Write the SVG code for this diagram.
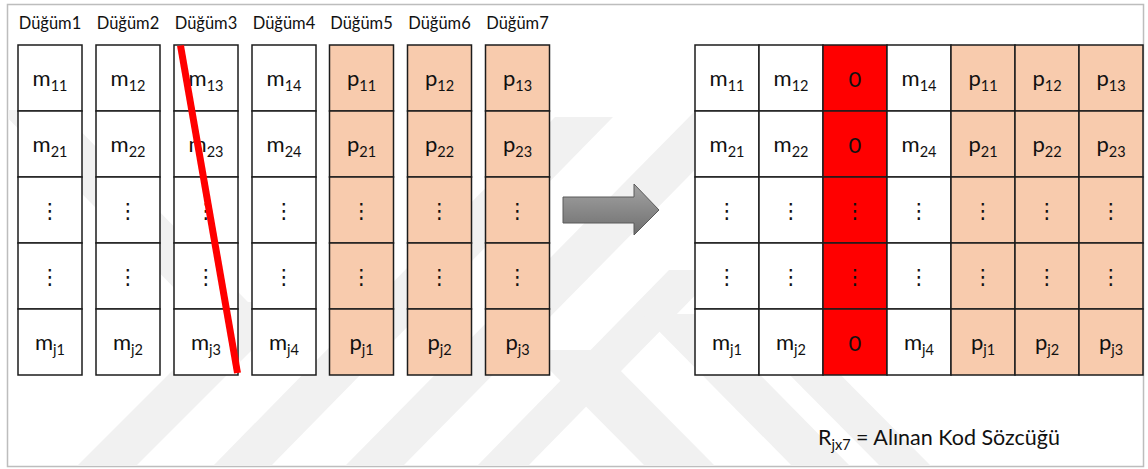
<svg xmlns="http://www.w3.org/2000/svg" width="1148" height="469" viewBox="0 0 1148 469">
  <style>
    .frame { fill: #ffffff; stroke: #bdbdbd; stroke-width: 1.5; }
    .wm { fill: #f1f1f1; }
    .cell { fill: #ffffff; stroke: #1c1c1c; stroke-width: 1.5; }
    .par { fill: #f8cbad; stroke: #1c1c1c; stroke-width: 1.5; }
    .zero { fill: #ff0000; stroke: #1c1c1c; stroke-width: 1.5; }
    .hdr { font-family: Lato, "Liberation Sans", sans-serif; font-size: 16.5px; fill: #111; text-anchor: middle; }
    .lbl { font-family: Lato, "Liberation Sans", sans-serif; font-size: 22px; fill: #111; text-anchor: middle; }
    .sub { font-size: 14.5px; }
    .dots { font-family: "DejaVu Sans", sans-serif; font-size: 21px; fill: #111; text-anchor: middle; }
    .cap { font-family: Lato, "Liberation Sans", sans-serif; font-size: 21.5px; fill: #111; }
    .strike { stroke: #ff0000; stroke-width: 7; stroke-linecap: butt; }
    .arrow { fill: url(#arrowFill); stroke: #5a5a5a; stroke-width: 1; }
  </style>
  <defs>
    <linearGradient id="arrowFill" x1="0" y1="0" x2="0" y2="1">
      <stop offset="0" stop-color="#a3a3a3"/>
      <stop offset="1" stop-color="#6f6f6f"/>
    </linearGradient>
    <clipPath id="inside">
      <rect x="8" y="5" width="1135" height="461"/>
    </clipPath>
  </defs>

  <!-- outer frame -->
  <rect class="frame" x="7.5" y="4.5" width="1136" height="462"/>

  <!-- faint background bands -->
  <g clip-path="url(#inside)">
    <polygon class="wm" points="77,466 136,466 300,302 241,302"/>
    <polygon class="wm" points="213,466 271,466 613,117 555,117"/>
    <polygon class="wm" points="345,466 403,466 752,112 694,112"/>
    <polygon class="wm" points="477,466 528,466 720,270 669,270"/>
    <polygon class="wm" points="0,110 60,110 290,345 230,345"/>
    <polygon class="wm" points="645,466 715,466 600,350 530,350"/>
    <polygon class="wm" points="792,466 850,466 700,314 642,314"/>
    <polygon class="wm" points="880,466 931,466 810,344 759,344"/>
  </g>

  <!-- column headers -->
  <g id="headers">
    <text class="hdr" x="50" y="29">Düğüm1</text>
    <text class="hdr" x="128" y="29">Düğüm2</text>
    <text class="hdr" x="206" y="29">Düğüm3</text>
    <text class="hdr" x="284" y="29">Düğüm4</text>
    <text class="hdr" x="361.5" y="29">Düğüm5</text>
    <text class="hdr" x="439.5" y="29">Düğüm6</text>
    <text class="hdr" x="517.5" y="29">Düğüm7</text>
  </g>

  <!-- node columns (left) -->
  <g id="node1">
    <rect class="cell" x="18" y="45" width="64" height="66"/>
    <rect class="cell" x="18" y="111" width="64" height="66"/>
    <rect class="cell" x="18" y="177" width="64" height="66"/>
    <rect class="cell" x="18" y="243" width="64" height="66"/>
    <rect class="cell" x="18" y="309" width="64" height="66"/>
    <text class="lbl" x="50" y="86">m<tspan class="sub" dy="5">11</tspan></text>
    <text class="lbl" x="50" y="152">m<tspan class="sub" dy="5">21</tspan></text>
    <text class="dots" x="50" y="218">⋮</text>
    <text class="dots" x="50" y="284">⋮</text>
    <text class="lbl" x="50" y="350">m<tspan class="sub" dy="5">j1</tspan></text>
  </g>
  <g id="node2">
    <rect class="cell" x="96" y="45" width="64" height="66"/>
    <rect class="cell" x="96" y="111" width="64" height="66"/>
    <rect class="cell" x="96" y="177" width="64" height="66"/>
    <rect class="cell" x="96" y="243" width="64" height="66"/>
    <rect class="cell" x="96" y="309" width="64" height="66"/>
    <text class="lbl" x="128" y="86">m<tspan class="sub" dy="5">12</tspan></text>
    <text class="lbl" x="128" y="152">m<tspan class="sub" dy="5">22</tspan></text>
    <text class="dots" x="128" y="218">⋮</text>
    <text class="dots" x="128" y="284">⋮</text>
    <text class="lbl" x="128" y="350">m<tspan class="sub" dy="5">j2</tspan></text>
  </g>
  <g id="node3">
    <rect class="cell" x="174" y="45" width="64" height="66"/>
    <rect class="cell" x="174" y="111" width="64" height="66"/>
    <rect class="cell" x="174" y="177" width="64" height="66"/>
    <rect class="cell" x="174" y="243" width="64" height="66"/>
    <rect class="cell" x="174" y="309" width="64" height="66"/>
    <text class="lbl" x="206" y="86">m<tspan class="sub" dy="5">13</tspan></text>
    <text class="lbl" x="206" y="152">m<tspan class="sub" dy="5">23</tspan></text>
    <text class="dots" x="206" y="218">⋮</text>
    <text class="dots" x="206" y="284">⋮</text>
    <text class="lbl" x="206" y="350">m<tspan class="sub" dy="5">j3</tspan></text>
    <!-- failed node marker -->
    <line class="strike" x1="180.5" y1="45.5" x2="237.5" y2="373"/>
  </g>
  <g id="node4">
    <rect class="cell" x="252" y="45" width="64" height="66"/>
    <rect class="cell" x="252" y="111" width="64" height="66"/>
    <rect class="cell" x="252" y="177" width="64" height="66"/>
    <rect class="cell" x="252" y="243" width="64" height="66"/>
    <rect class="cell" x="252" y="309" width="64" height="66"/>
    <text class="lbl" x="284" y="86">m<tspan class="sub" dy="5">14</tspan></text>
    <text class="lbl" x="284" y="152">m<tspan class="sub" dy="5">24</tspan></text>
    <text class="dots" x="284" y="218">⋮</text>
    <text class="dots" x="284" y="284">⋮</text>
    <text class="lbl" x="284" y="350">m<tspan class="sub" dy="5">j4</tspan></text>
  </g>
  <g id="node5">
    <rect class="par" x="329.5" y="45" width="64" height="66"/>
    <rect class="par" x="329.5" y="111" width="64" height="66"/>
    <rect class="par" x="329.5" y="177" width="64" height="66"/>
    <rect class="par" x="329.5" y="243" width="64" height="66"/>
    <rect class="par" x="329.5" y="309" width="64" height="66"/>
    <text class="lbl" x="361.5" y="86">p<tspan class="sub" dy="5">11</tspan></text>
    <text class="lbl" x="361.5" y="152">p<tspan class="sub" dy="5">21</tspan></text>
    <text class="dots" x="361.5" y="218">⋮</text>
    <text class="dots" x="361.5" y="284">⋮</text>
    <text class="lbl" x="361.5" y="350">p<tspan class="sub" dy="5">j1</tspan></text>
  </g>
  <g id="node6">
    <rect class="par" x="407.5" y="45" width="64" height="66"/>
    <rect class="par" x="407.5" y="111" width="64" height="66"/>
    <rect class="par" x="407.5" y="177" width="64" height="66"/>
    <rect class="par" x="407.5" y="243" width="64" height="66"/>
    <rect class="par" x="407.5" y="309" width="64" height="66"/>
    <text class="lbl" x="439.5" y="86">p<tspan class="sub" dy="5">12</tspan></text>
    <text class="lbl" x="439.5" y="152">p<tspan class="sub" dy="5">22</tspan></text>
    <text class="dots" x="439.5" y="218">⋮</text>
    <text class="dots" x="439.5" y="284">⋮</text>
    <text class="lbl" x="439.5" y="350">p<tspan class="sub" dy="5">j2</tspan></text>
  </g>
  <g id="node7">
    <rect class="par" x="485.5" y="45" width="64" height="66"/>
    <rect class="par" x="485.5" y="111" width="64" height="66"/>
    <rect class="par" x="485.5" y="177" width="64" height="66"/>
    <rect class="par" x="485.5" y="243" width="64" height="66"/>
    <rect class="par" x="485.5" y="309" width="64" height="66"/>
    <text class="lbl" x="517.5" y="86">p<tspan class="sub" dy="5">13</tspan></text>
    <text class="lbl" x="517.5" y="152">p<tspan class="sub" dy="5">23</tspan></text>
    <text class="dots" x="517.5" y="218">⋮</text>
    <text class="dots" x="517.5" y="284">⋮</text>
    <text class="lbl" x="517.5" y="350">p<tspan class="sub" dy="5">j3</tspan></text>
  </g>

  <!-- transition arrow -->
  <g id="connectors">
    <polygon class="arrow" points="563,197 634,197 634,184 659,210 634,235 634,223 563,223"/>
  </g>

  <!-- received codeword matrix (right) -->
  <g id="codeword">
    <g id="r-col1">
      <rect class="cell" x="695" y="45" width="64" height="66"/>
      <rect class="cell" x="695" y="111" width="64" height="66"/>
      <rect class="cell" x="695" y="177" width="64" height="66"/>
      <rect class="cell" x="695" y="243" width="64" height="66"/>
      <rect class="cell" x="695" y="309" width="64" height="66"/>
      <text class="lbl" x="727" y="86">m<tspan class="sub" dy="5">11</tspan></text>
      <text class="lbl" x="727" y="152">m<tspan class="sub" dy="5">21</tspan></text>
      <text class="dots" x="727" y="218">⋮</text>
      <text class="dots" x="727" y="284">⋮</text>
      <text class="lbl" x="727" y="350">m<tspan class="sub" dy="5">j1</tspan></text>
    </g>
    <g id="r-col2">
      <rect class="cell" x="759" y="45" width="64" height="66"/>
      <rect class="cell" x="759" y="111" width="64" height="66"/>
      <rect class="cell" x="759" y="177" width="64" height="66"/>
      <rect class="cell" x="759" y="243" width="64" height="66"/>
      <rect class="cell" x="759" y="309" width="64" height="66"/>
      <text class="lbl" x="791" y="86">m<tspan class="sub" dy="5">12</tspan></text>
      <text class="lbl" x="791" y="152">m<tspan class="sub" dy="5">22</tspan></text>
      <text class="dots" x="791" y="218">⋮</text>
      <text class="dots" x="791" y="284">⋮</text>
      <text class="lbl" x="791" y="350">m<tspan class="sub" dy="5">j2</tspan></text>
    </g>
    <g id="r-col3">
      <rect class="zero" x="823" y="45" width="64" height="66"/>
      <rect class="zero" x="823" y="111" width="64" height="66"/>
      <rect class="zero" x="823" y="177" width="64" height="66"/>
      <rect class="zero" x="823" y="243" width="64" height="66"/>
      <rect class="zero" x="823" y="309" width="64" height="66"/>
      <text class="lbl" x="855" y="87">0</text>
      <text class="lbl" x="855" y="153">0</text>
      <text class="dots" x="855" y="218">⋮</text>
      <text class="dots" x="855" y="284">⋮</text>
      <text class="lbl" x="855" y="351">0</text>
    </g>
    <g id="r-col4">
      <rect class="cell" x="887" y="45" width="64" height="66"/>
      <rect class="cell" x="887" y="111" width="64" height="66"/>
      <rect class="cell" x="887" y="177" width="64" height="66"/>
      <rect class="cell" x="887" y="243" width="64" height="66"/>
      <rect class="cell" x="887" y="309" width="64" height="66"/>
      <text class="lbl" x="919" y="86">m<tspan class="sub" dy="5">14</tspan></text>
      <text class="lbl" x="919" y="152">m<tspan class="sub" dy="5">24</tspan></text>
      <text class="dots" x="919" y="218">⋮</text>
      <text class="dots" x="919" y="284">⋮</text>
      <text class="lbl" x="919" y="350">m<tspan class="sub" dy="5">j4</tspan></text>
    </g>
    <g id="r-col5">
      <rect class="par" x="951" y="45" width="64" height="66"/>
      <rect class="par" x="951" y="111" width="64" height="66"/>
      <rect class="par" x="951" y="177" width="64" height="66"/>
      <rect class="par" x="951" y="243" width="64" height="66"/>
      <rect class="par" x="951" y="309" width="64" height="66"/>
      <text class="lbl" x="983" y="86">p<tspan class="sub" dy="5">11</tspan></text>
      <text class="lbl" x="983" y="152">p<tspan class="sub" dy="5">21</tspan></text>
      <text class="dots" x="983" y="218">⋮</text>
      <text class="dots" x="983" y="284">⋮</text>
      <text class="lbl" x="983" y="350">p<tspan class="sub" dy="5">j1</tspan></text>
    </g>
    <g id="r-col6">
      <rect class="par" x="1015" y="45" width="64" height="66"/>
      <rect class="par" x="1015" y="111" width="64" height="66"/>
      <rect class="par" x="1015" y="177" width="64" height="66"/>
      <rect class="par" x="1015" y="243" width="64" height="66"/>
      <rect class="par" x="1015" y="309" width="64" height="66"/>
      <text class="lbl" x="1047" y="86">p<tspan class="sub" dy="5">12</tspan></text>
      <text class="lbl" x="1047" y="152">p<tspan class="sub" dy="5">22</tspan></text>
      <text class="dots" x="1047" y="218">⋮</text>
      <text class="dots" x="1047" y="284">⋮</text>
      <text class="lbl" x="1047" y="350">p<tspan class="sub" dy="5">j2</tspan></text>
    </g>
    <g id="r-col7">
      <rect class="par" x="1079" y="45" width="64" height="66"/>
      <rect class="par" x="1079" y="111" width="64" height="66"/>
      <rect class="par" x="1079" y="177" width="64" height="66"/>
      <rect class="par" x="1079" y="243" width="64" height="66"/>
      <rect class="par" x="1079" y="309" width="64" height="66"/>
      <text class="lbl" x="1111" y="86">p<tspan class="sub" dy="5">13</tspan></text>
      <text class="lbl" x="1111" y="152">p<tspan class="sub" dy="5">23</tspan></text>
      <text class="dots" x="1111" y="218">⋮</text>
      <text class="dots" x="1111" y="284">⋮</text>
      <text class="lbl" x="1111" y="350">p<tspan class="sub" dy="5">j3</tspan></text>
    </g>
  </g>

  <!-- caption -->
  <g id="caption">
    <text class="cap" x="818" y="445">R<tspan class="sub" dy="5">jx7</tspan><tspan dy="-5"> = Alınan Kod Sözcüğü</tspan></text>
  </g>
</svg>
